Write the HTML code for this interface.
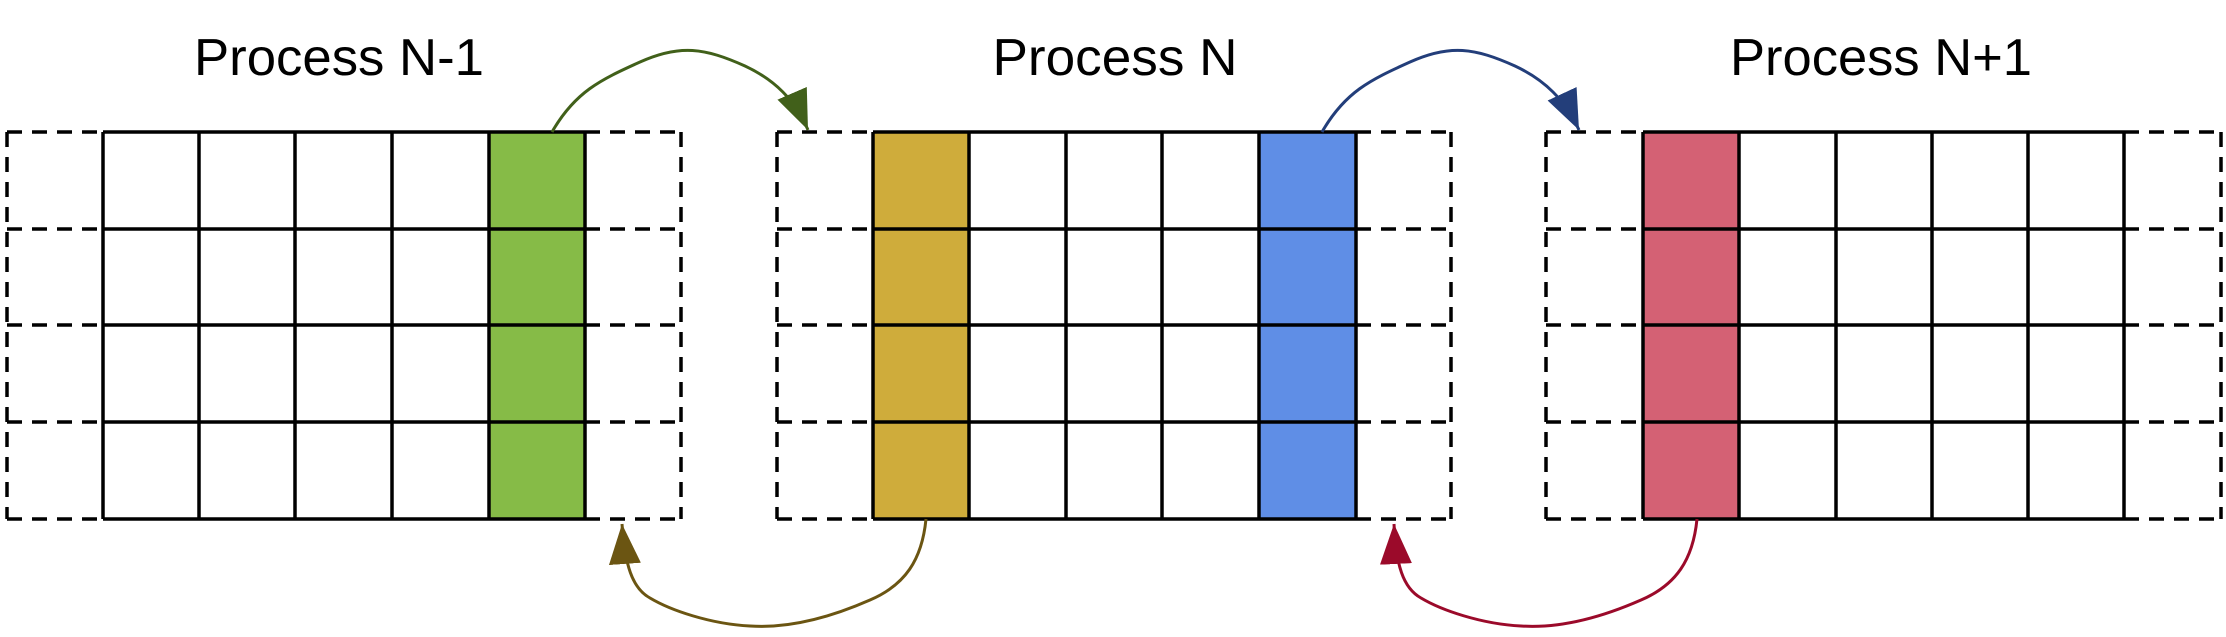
<!DOCTYPE html>
<html><head><meta charset="utf-8"><style>
html,body{margin:0;padding:0;background:#fff;}
svg{display:block;}
text{font-family:"Liberation Sans",sans-serif;font-size:52px;fill:#000;}
</style></head><body>
<svg width="2226" height="637" viewBox="0 0 2226 637" xmlns="http://www.w3.org/2000/svg">
<defs>
<marker id="mg" markerUnits="userSpaceOnUse" markerWidth="44" markerHeight="34" refX="40" refY="16" orient="auto"><path d="M0,0 L40,16 L0,32 Z" fill="#41601a"/></marker>
<marker id="mb" markerUnits="userSpaceOnUse" markerWidth="44" markerHeight="34" refX="40" refY="16" orient="auto"><path d="M0,0 L40,16 L0,32 Z" fill="#233e7a"/></marker>
<marker id="mo" markerUnits="userSpaceOnUse" markerWidth="44" markerHeight="34" refX="40" refY="16" orient="auto"><path d="M0,0 L40,16 L0,32 Z" fill="#6b5512"/></marker>
<marker id="mr" markerUnits="userSpaceOnUse" markerWidth="44" markerHeight="34" refX="40" refY="16" orient="auto"><path d="M0,0 L40,16 L0,32 Z" fill="#9b0a2a"/></marker>
</defs>

<text x="339" y="75" text-anchor="middle" textLength="290" lengthAdjust="spacingAndGlyphs">Process N-1</text>
<text x="1115" y="75" text-anchor="middle" textLength="245" lengthAdjust="spacingAndGlyphs">Process N</text>
<text x="1881" y="75" text-anchor="middle" textLength="302" lengthAdjust="spacingAndGlyphs">Process N+1</text>

<rect x="489" y="132" width="96" height="387" fill="#86bb47"/>
<rect x="873" y="132" width="96" height="387" fill="#cfac3b"/>
<rect x="1259" y="132" width="97" height="387" fill="#5f8ee6"/>
<rect x="1643" y="132" width="96" height="387" fill="#d46174"/>

<g fill="none" stroke="#000" stroke-width="3.5" stroke-dasharray="15,10">
<path d="M7,132H103M7,229H103M7,325H103M7,422H103M7,519H103M7,132V519"/>
<path d="M585,132H681M585,229H681M585,325H681M585,422H681M585,519H681M681,132V519"/>
<path d="M777,132H873M777,229H873M777,325H873M777,422H873M777,519H873M777,132V519"/>
<path d="M1356,132H1451M1356,229H1451M1356,325H1451M1356,422H1451M1356,519H1451M1451,132V519"/>
<path d="M1546,132H1643M1546,229H1643M1546,325H1643M1546,422H1643M1546,519H1643M1546,132V519"/>
<path d="M2124,132H2221M2124,229H2221M2124,325H2221M2124,422H2221M2124,519H2221M2221,132V519"/>
</g>

<g fill="none" stroke="#000" stroke-width="3.5">
<path d="M103,132H585M103,229H585M103,325H585M103,422H585M103,519H585M103,132V519M199,132V519M295,132V519M392,132V519M489,132V519M585,132V519"/>
<path d="M873,132H1356M873,229H1356M873,325H1356M873,422H1356M873,519H1356M873,132V519M969,132V519M1066,132V519M1162,132V519M1259,132V519M1356,132V519"/>
<path d="M1643,132H2124M1643,229H2124M1643,325H2124M1643,422H2124M1643,519H2124M1643,132V519M1739,132V519M1836,132V519M1932,132V519M2028,132V519M2124,132V519"/>
</g>

<g fill="none" stroke-width="3">
<path d="M552,132 C575,92 600,80 640,62 C680,44 705,48 745,66 C775,80 795,100 808,130" stroke="#41601a" marker-end="url(#mg)"/>
<path d="M1322,132 C1345,92 1370,80 1410,62 C1450,44 1475,48 1515,66 C1545,80 1565,100 1579,130" stroke="#233e7a" marker-end="url(#mb)"/>
<path d="M926,519 C922,560 905,585 870,600 C820,622 780,628 750,626 C710,624 670,610 650,598 C632,588 625,565 622,524" stroke="#6b5512" marker-end="url(#mo)"/>
<path d="M1697,519 C1693,560 1676,585 1641,600 C1591,622 1551,628 1521,626 C1481,624 1441,610 1421,598 C1403,588 1396,565 1394,524" stroke="#9b0a2a" marker-end="url(#mr)"/>
</g>
</svg>
</body></html>
